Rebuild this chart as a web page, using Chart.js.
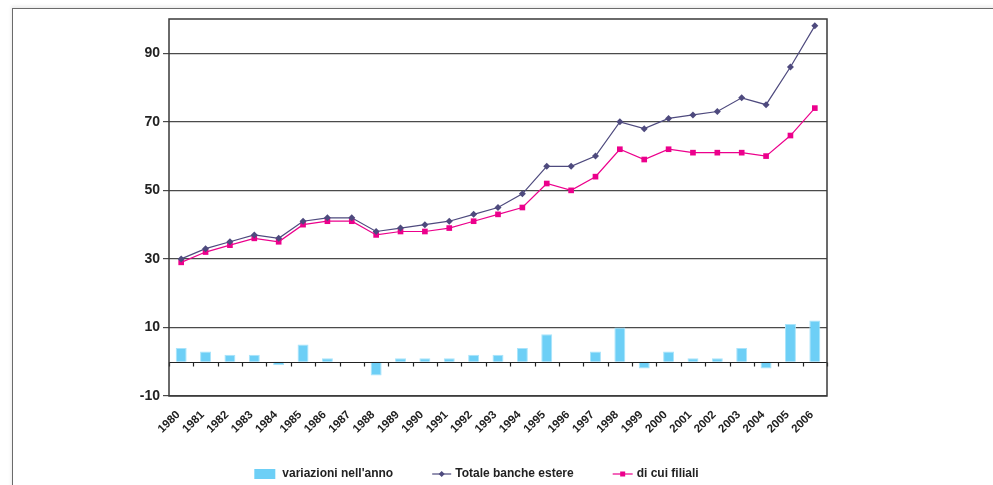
<!DOCTYPE html>
<html>
<head>
<meta charset="utf-8">
<script src="https://cdn.jsdelivr.net/npm/chart.js@4.4.0/dist/chart.umd.min.js"></script>
<style>
  body { margin: 0; background: #fff; }
  #wrap { position: relative; width: 993px; height: 485px; overflow: hidden; }
  #cornice {
    position: absolute; left: 12px; top: 8px; width: 1000px; height: 500px;
    border-left: 1px solid #6b6b6b; border-top: 1px solid #6b6b6b;
    box-shadow: -1px -2px 3px rgba(0, 0, 0, 0.08);
  }
  #grafico { position: absolute; left: 0; top: 0; }
</style>
</head>
<body>
<div id="wrap">
  <div id="cornice"></div>
  <canvas id="grafico" width="993" height="485"></canvas>
</div>
<script>
var anni = ["1980","1981","1982","1983","1984","1985","1986","1987","1988","1989","1990","1991","1992",
  "1993","1994","1995","1996","1997","1998","1999","2000","2001","2002","2003","2004","2005","2006"];
var variazioni = [4, 3, 2, 2, -1, 5, 1, 0, -4, 1, 1, 1, 2, 2, 4, 8, 0, 3, 10, -2, 3, 1, 1, 4, -2, 11, 12];
var totaleBanche = [30, 33, 35, 37, 36, 41, 42, 42, 38, 39, 40, 41, 43, 45, 49, 57, 57, 60, 70, 68, 71, 72, 73, 77, 75, 86, 98];
var filiali = [29, 32, 34, 36, 35, 40, 41, 41, 37, 38, 38, 39, 41, 43, 45, 52, 50, 54, 62, 59, 62, 61, 61, 61, 60, 66, 74];
var yTicks = [-10, 10, 30, 50, 70, 90];
var etichette = ["variazioni nell'anno", "Totale banche estere", "di cui filiali"];

var coloreBarre = "#6dcff6";
var coloreTotale = "#4e4a7e";
var coloreFiliali = "#ec008c";
var font = '"Liberation Sans", Arial, sans-serif';

// cornice del grafico, linea dello zero con le tacche e legenda in basso
var extraPlugin = {
  id: "extra",
  afterDatasetsDraw: function (chart) {
    var ctx = chart.ctx;
    var a = chart.chartArea;
    var x = chart.scales.x;
    var y0 = Math.round(chart.scales.y.getPixelForValue(0)) + 0.5;
    var step = x.getPixelForValue(1) - x.getPixelForValue(0);
    ctx.save();
    ctx.strokeStyle = "#222";
    ctx.lineWidth = 1.2;
    ctx.beginPath();
    ctx.moveTo(a.left, y0);
    ctx.lineTo(a.right, y0);
    for (var i = 0; i <= anni.length; i++) {
      var px = Math.round(x.getPixelForValue(i) - step / 2) + 0.5;
      ctx.moveTo(px, y0);
      ctx.lineTo(px, y0 + 4);
    }
    ctx.stroke();
    ctx.strokeStyle = "#3a3a3a";
    ctx.lineWidth = 1.5;
    ctx.strokeRect(a.left, a.top, a.right - a.left, a.bottom - a.top);
    ctx.restore();
  },
  afterDraw: function (chart) {
    var ctx = chart.ctx;
    ctx.save();
    ctx.font = "bold 12px " + font;
    ctx.textBaseline = "middle";
    ctx.fillStyle = "#222";
    var w = etichette.map(function (t) { return ctx.measureText(t).width; });
    var tot = 21 + 7 + w[0] + 39 + 19 + 4 + w[1] + 39 + 20 + 4 + w[2];
    var cx = 476.5;
    var px = cx - tot / 2;
    var py = 474;

    ctx.fillStyle = coloreBarre;
    ctx.fillRect(px, py - 5, 21, 10);
    px += 28;
    ctx.fillStyle = "#222";
    ctx.fillText(etichette[0], px, py);
    px += w[0] + 39;

    ctx.strokeStyle = coloreTotale;
    ctx.lineWidth = 1.2;
    ctx.beginPath();
    ctx.moveTo(px, py);
    ctx.lineTo(px + 19, py);
    ctx.stroke();
    ctx.fillStyle = coloreTotale;
    ctx.beginPath();
    ctx.moveTo(px + 9.5, py - 3);
    ctx.lineTo(px + 12.5, py);
    ctx.lineTo(px + 9.5, py + 3);
    ctx.lineTo(px + 6.5, py);
    ctx.closePath();
    ctx.fill();
    px += 23;
    ctx.fillStyle = "#222";
    ctx.fillText(etichette[1], px, py);
    px += w[1] + 39;

    ctx.strokeStyle = coloreFiliali;
    ctx.beginPath();
    ctx.moveTo(px, py);
    ctx.lineTo(px + 20, py);
    ctx.stroke();
    ctx.fillStyle = coloreFiliali;
    ctx.fillRect(px + 7.5, py - 2.5, 5, 5);
    px += 24;
    ctx.fillStyle = "#222";
    ctx.fillText(etichette[2], px, py);
    ctx.restore();
  }
};

var ctx = document.getElementById("grafico").getContext("2d");
new Chart(ctx, {
  data: {
    labels: anni,
    datasets: [
      {
        type: "line",
        label: etichette[1],
        data: totaleBanche,
        borderColor: coloreTotale,
        backgroundColor: coloreTotale,
        borderWidth: 1.2,
        pointStyle: "rectRot",
        pointRadius: 3.5,
        pointBorderWidth: 0,
        tension: 0,
        order: 1
      },
      {
        type: "line",
        label: etichette[2],
        data: filiali,
        borderColor: coloreFiliali,
        backgroundColor: coloreFiliali,
        borderWidth: 1.2,
        pointStyle: "rect",
        pointRadius: 4,
        pointBorderWidth: 0,
        tension: 0,
        order: 2
      },
      {
        type: "bar",
        label: etichette[0],
        data: variazioni,
        backgroundColor: coloreBarre,
        borderColor: "#a9e4fb",
        borderWidth: 1,
        barPercentage: 0.45,
        categoryPercentage: 1,
        order: 3
      }
    ]
  },
  options: {
    responsive: false,
    animation: false,
    layout: { padding: { top: 19, right: 166, left: 0, bottom: 0 } },
    plugins: {
      legend: { display: false },
      tooltip: { enabled: false }
    },
    scales: {
      x: {
        offset: true,
        grid: { display: false, drawTicks: false },
        border: { display: false },
        ticks: {
          autoSkip: false,
          maxRotation: 45,
          minRotation: 45,
          padding: 12,
          labelOffset: -3,
          color: "#222",
          font: { family: font, size: 11.5, weight: "bold" }
        },
        afterFit: function (scale) { scale.height = 89; }
      },
      y: {
        min: -10,
        max: 100,
        afterBuildTicks: function (scale) {
          scale.ticks = yTicks.map(function (v) { return { value: v }; });
        },
        grid: { color: "#4a4a4a", lineWidth: 1.2, tickLength: 6 },
        border: { display: false },
        ticks: {
          padding: 3,
          color: "#222",
          font: { family: font, size: 14, weight: "bold" }
        },
        afterFit: function (scale) { scale.width = 169; }
      }
    }
  },
  plugins: [extraPlugin]
});
</script>
</body>
</html>
